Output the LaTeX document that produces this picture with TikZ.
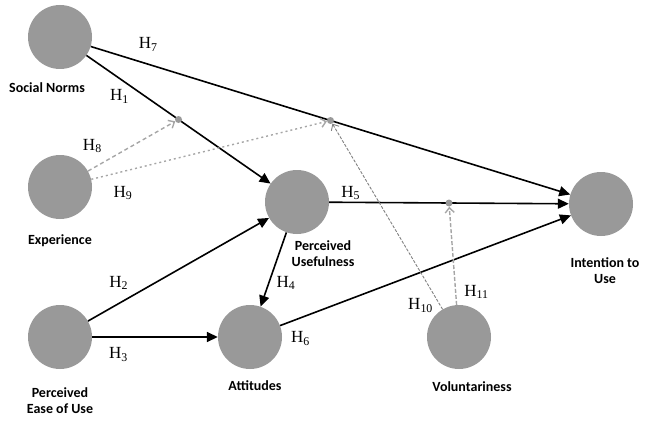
\documentclass[tikz,border=0pt]{standalone}
\usepackage{fontspec}
\setmainfont{Liberation Serif}
\setsansfont{Carlito}
\usetikzlibrary{positioning, calc, arrows.meta}
\tikzset{latent/.style={circle, fill=black!40, minimum size=64pt, inner sep=0pt}}
\tikzset{mdot/.style={circle, fill=black!40, minimum size=7pt, inner sep=0pt}}
\tikzset{vname/.style={font=\sffamily\bfseries\fontsize{14}{16}\selectfont, align=center, inner sep=0pt}}
\tikzset{hyp/.style={font=\fontsize{17}{19}\selectfont, inner sep=1pt}}
\tikzset{arr/.style={draw, -{Triangle[length=11pt, width=10pt]}, line width=1.6pt}}
\tikzset{modarr/.style={draw, black!35, -{Straight Barb[length=5pt, width=9pt]}, line width=1.4pt}}

\begin{document}
\begin{tikzpicture}[x=1pt, y=-1pt]
	\useasboundingbox (0,0) rectangle (651,428);
	% constructs
	\node[latent] (sn) at (60,37) {};
	\node[latent] (ex) at (60,187) {};
	\node[latent] (pu) at (297,202) {};
	\node[latent] (peou) at (60,337) {};
	\node[latent] (att) at (250,337) {};
	\node[latent] (vol) at (459,337) {};
	\node[latent] (itu) at (601,204) {};
	\node[vname, below=13pt of sn, xshift=-13pt] (snl) {Social Norms};
	\node[vname, below=15pt of ex] (exl) {Experience};
	\node[vname, below=6pt of pu, xshift=26pt] (pul) {Perceived\\Usefulness};
	\node[vname, below=18pt of peou] (peoul) {Perceived\\Ease of Use};
	\node[vname, below=11pt of att, xshift=5pt] (attl) {Attitudes};
	\node[vname, below=12pt of vol, xshift=13pt] (voll) {Voluntariness};
	\node[vname, below=21pt of itu, xshift=4pt] (itul) {Intention to\\Use};
	% direct paths
	\draw[arr] (sn) --
		node[hyp, above=11pt, pos=0.12] (h7) {H\textsubscript{7}} (itu);
	\draw[arr] (sn) --
		node[hyp, below=9.5pt, pos=0.18] (h1) {H\textsubscript{1}} (pu);
	\draw[arr] (pu) --
		node[hyp, above=0.5pt, pos=0.09] (h5) {H\textsubscript{5}} (itu);
	\draw[arr] (peou) --
		node[hyp, above=12pt, pos=0.17] (h2) {H\textsubscript{2}} (pu);
	\draw[arr] (peou) --
		node[hyp, below=9pt, pos=0.21] (h3) {H\textsubscript{3}} (att);
	\draw[arr] (pu) --
		node[hyp, right=6pt, pos=0.68] (h4) {H\textsubscript{4}} (att);
	\draw[arr] (att) --
		node[hyp, below=12pt, pos=0.07] (h6) {H\textsubscript{6}} (itu);
	% moderators
	\node[mdot] (m1) at ($(sn)!0.5!(pu)$) {};
	\node[mdot] (m2) at ($(sn)!0.5!(itu)$) {};
	\node[mdot] (m3) at ($(pu)!0.5!(itu)$) {};
	\draw[modarr, dash pattern=on 4pt off 3pt] (ex) --
		node[hyp, black, above=14pt, pos=0.05] (h8) {H\textsubscript{8}} (m1);
	\draw[modarr, dash pattern=on 2pt off 3pt] (ex) --
		node[hyp, black, below=13pt, pos=0.135] (h9) {H\textsubscript{9}} (m2);
	\draw[modarr, black!50, line width=0.9pt, dash pattern=on 3pt off 1.5pt] (vol) --
		node[hyp, black, left=6pt, pos=0.02] (h10) {H\textsubscript{10}} (m2);
	\draw[modarr, dash pattern=on 4pt off 2pt] (vol) --
		node[hyp, black, right=7pt, pos=0.13] (h11) {H\textsubscript{11}} (m3);
\end{tikzpicture}
\end{document}
